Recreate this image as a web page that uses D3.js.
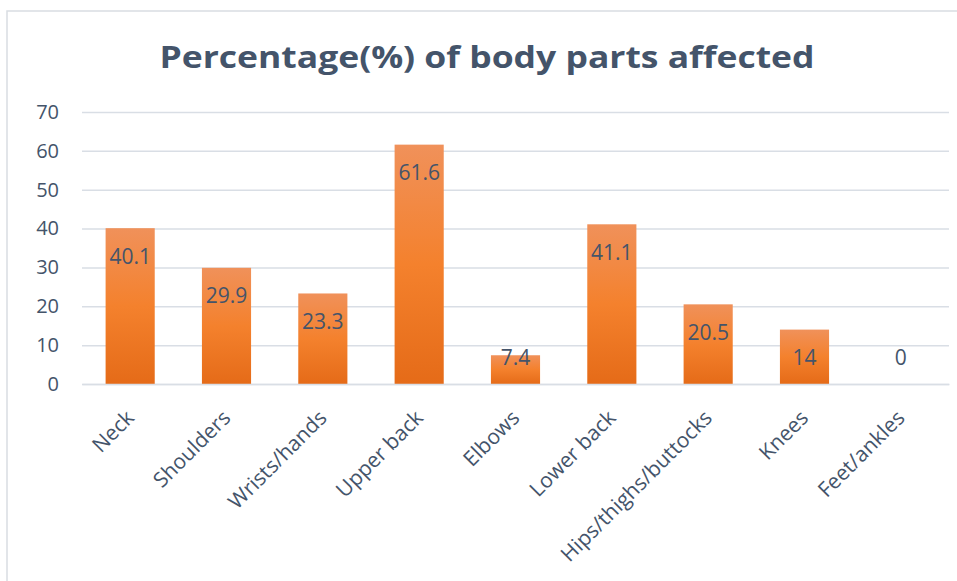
<!DOCTYPE html>
<html><head><meta charset="utf-8">
<script src="https://cdn.jsdelivr.net/npm/d3@7"></script>
<style>html,body{margin:0;padding:0;background:#fff;}svg{display:block;}</style>
</head><body>
<script>
const categories = ["Neck","Shoulders","Wrists/hands","Upper back","Elbows","Lower back","Hips/thighs/buttocks","Knees","Feet/ankles"];
const values = [40.1, 29.9, 23.3, 61.6, 7.4, 41.1, 20.5, 14, 0];
const valueLabels = ["40.1","29.9","23.3","61.6","7.4","41.1","20.5","14","0"];
const yTicks = [0,10,20,30,40,50,60,70];
const title = "Percentage(%) of body parts affected";

const W = 957, H = 581;
const textColor = "#44546A";
const gridColor = "#D9DEE5";
const svg = d3.select("body").append("svg").attr("width", W).attr("height", H);

const defs = svg.append("defs");
const grad = defs.append("linearGradient").attr("id","barGrad").attr("x1",0).attr("y1",0).attr("x2",0).attr("y2",1);
grad.append("stop").attr("offset","0%").attr("stop-color","#F0915A");
grad.append("stop").attr("offset","50%").attr("stop-color","#F4812D");
grad.append("stop").attr("offset","100%").attr("stop-color","#E56B18");

// frame
svg.append("rect").attr("x",7).attr("y",11).attr("width",1000).attr("height",1000)
  .attr("fill","none").attr("stroke","#D9DDE2").attr("stroke-width",1.5);

const x = d3.scaleBand().domain(categories).range([82, 949]).paddingInner(0.49).paddingOuter(0.245);
const y = d3.scaleLinear().domain([0,70]).range([384, 112]);

// title
svg.append("text").attr("x", 487).attr("y", 68).attr("text-anchor","middle")
  .attr("font-family","'Open Sans', sans-serif").attr("font-weight","bold")
  .attr("font-size", 30).attr("textLength", 655).attr("lengthAdjust","spacingAndGlyphs")
  .attr("fill", textColor).text(title);

// gridlines
const yAxis = d3.axisLeft(y).tickValues(yTicks).tickSize(-(949-82)).tickPadding(23);
const gy = svg.append("g").attr("transform","translate(82,0)").call(yAxis);
gy.select(".domain").remove();
gy.selectAll(".tick line").attr("stroke", gridColor).attr("stroke-width",1.5);
gy.selectAll(".tick text").attr("fill", textColor).attr("font-size", 20)
  .attr("font-family","'Open Sans', sans-serif");

// bars
svg.append("g").selectAll("rect").data(values).join("rect")
  .attr("x",(d,i)=>x(categories[i])).attr("width",x.bandwidth())
  .attr("y",d=>y(d)).attr("height",d=>y(0)-y(d))
  .attr("fill","url(#barGrad)");

// x axis
const xAxis = d3.axisBottom(x).tickSize(0).tickPadding(0);
const gx = svg.append("g").attr("transform","translate(0,384)").call(xAxis);
gx.select(".domain").attr("stroke", gridColor).attr("stroke-width",1.5);
gx.selectAll(".tick text").attr("fill", textColor).attr("font-size", 21)
  .attr("font-family","'Open Sans', sans-serif")
  .attr("text-anchor","end").attr("dy","0.35em")
  .attr("transform","translate(0,30) rotate(-45)");

// value labels
svg.append("g").selectAll("text").data(values).join("text")
  .attr("x",(d,i)=>x(categories[i]) + x.bandwidth()/2)
  .attr("y",d=>Math.min(y(d)+28, y(0)-26))
  .attr("dy","0.35em").attr("text-anchor","middle")
  .attr("fill", textColor).attr("font-size", 21)
  .attr("font-family","'Open Sans', sans-serif")
  .text((d,i)=>valueLabels[i]);
</script>
</body></html>
